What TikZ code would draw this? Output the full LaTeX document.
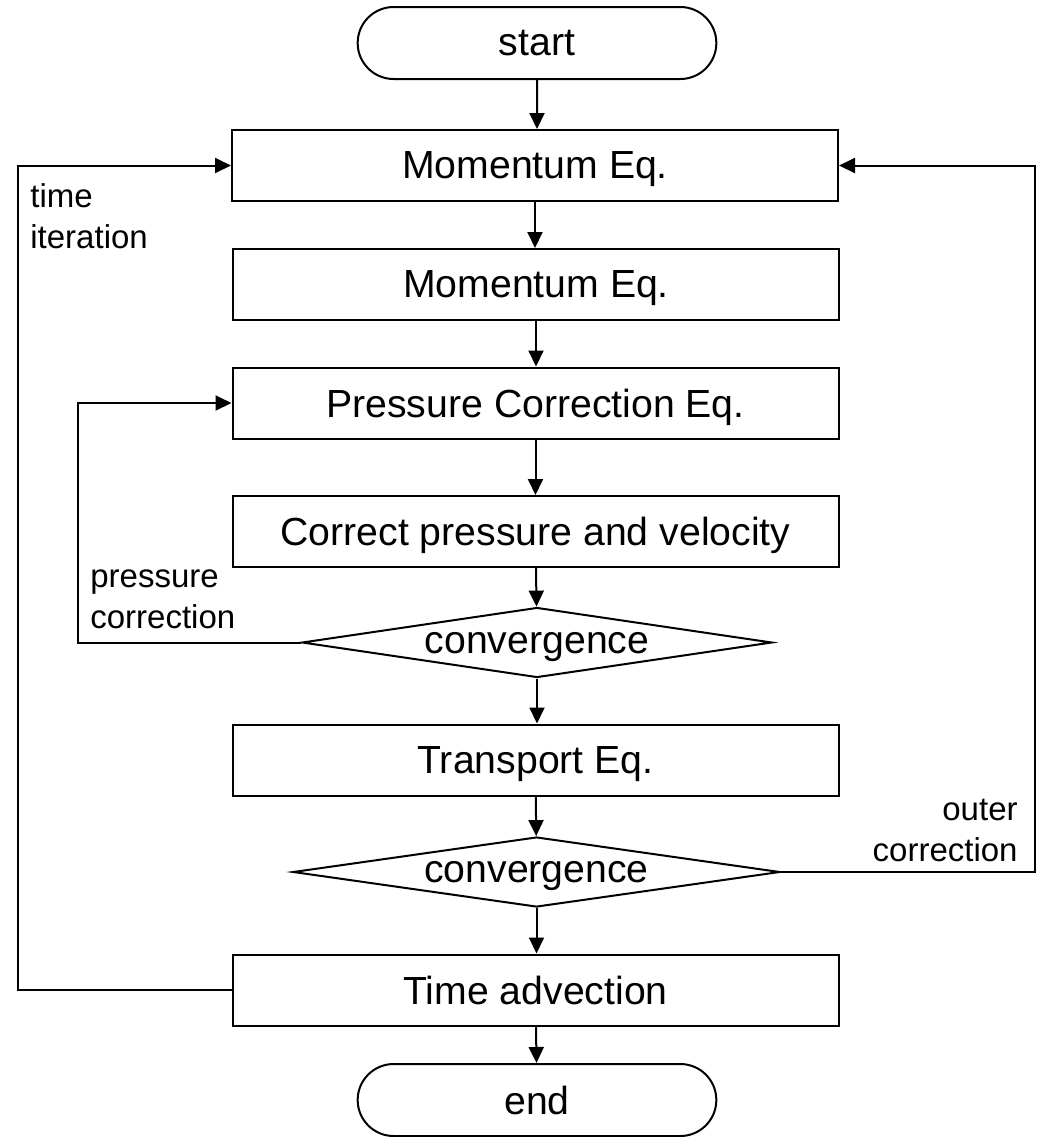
\documentclass[tikz,border=0pt]{standalone}
\usepackage{fontspec}
\setmainfont{Liberation Sans}
\usetikzlibrary{shapes.geometric,shapes.misc,arrows.meta}
\begin{document}
\begin{tikzpicture}[x=0.5pt, y=-0.5pt,
    every node/.style={font=\fontsize{19.6}{23}\selectfont},
    term/.style={draw, line width=1pt, rounded rectangle, text depth=0pt, minimum width=186pt, minimum height=36pt},
    stepbox/.style={draw, line width=1pt, rectangle, text depth=0pt, minimum width=303pt, minimum height=35.5pt},
    check/.style={draw, line width=1pt, diamond, aspect=6.7, inner sep=0pt, text depth=0pt, minimum height=35pt},
    lbl/.style={font=\fontsize{16.5}{20.5}\selectfont, inner sep=0pt},
    flow/.style={line width=1pt, -{Triangle[length=8pt, width=7.5pt]}}]
    \useasboundingbox (0,0) rectangle (1045,1137);
    %
    \node[term] (start) at (537,43) {start};
    \node[stepbox] (mom1) at (535,165.5) {Momentum Eq.};
    \node[stepbox] (mom2) at (536,284.5) {Momentum Eq.};
    \node[stepbox] (pce) at (535.5,403) {Pressure Correction Eq.};
    \node[stepbox] (cpv) at (535.5,531.5) {Correct pressure and velocity};
    \node[check, minimum width=235pt] (conv1) at (537,642.5) {convergence};
    \node[stepbox] (trans) at (535.5,760) {Transport Eq.};
    \node[check, minimum width=243.5pt] (conv2) at (536.5,872) {convergence};
    \node[stepbox] (tadv) at (535.5,990) {Time advection};
    \node[term] (end) at (537,1100) {end};
    %
    \draw[flow] (start) -- (start |- mom1.north);
    \draw[flow] (mom1) -- (mom1 |- mom2.north);
    \draw[flow] (mom2) -- (mom2 |- pce.north);
    \draw[flow] (pce) -- (pce |- cpv.north);
    \draw[flow] (cpv) -- (conv1);
    \draw[flow] (conv1) -- (conv1 |- trans.north);
    \draw[flow] (trans) -- (conv2);
    \draw[flow] (conv2) -- (conv2 |- tadv.north);
    \draw[flow] (tadv) -- (end);
    %
    \coordinate (tloop) at (18,990);
    \coordinate (ploop) at (78,642.5);
    \coordinate (oloop) at (1035,872);
    \draw[flow] (tadv.west) -- (tloop) |- (mom1.west);
    \draw[flow] (conv1.west) -- (ploop) |- (pce.west);
    \draw[flow] (conv2.east) -- (oloop) |- (mom1.east);
    %
    \node[lbl, anchor=base west, align=left] (tlbl) at (30,248) {time\\iteration};
    \node[lbl, anchor=base west, align=left] (plbl) at (90,628) {pressure\\correction};
    \node[lbl, anchor=base east, align=right] (olbl) at (1018,861) {outer\\correction};
\end{tikzpicture}
\end{document}
